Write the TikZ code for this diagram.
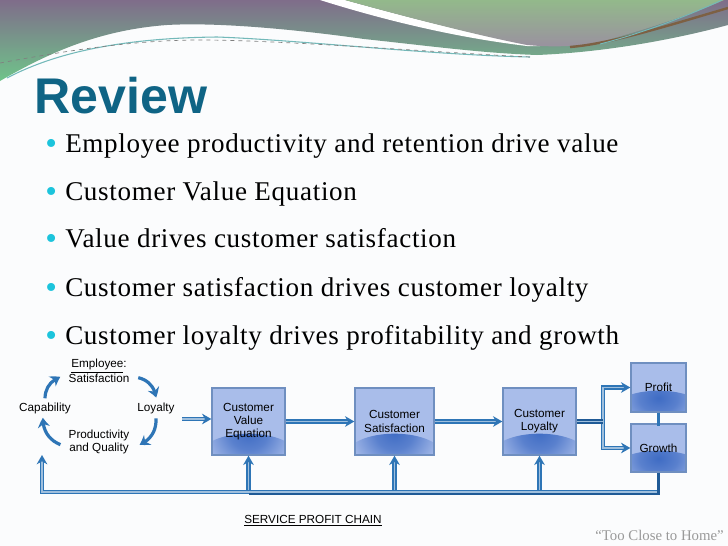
\documentclass[tikz,border=0pt]{standalone}
\usepackage{xcolor}
\usepackage{fontspec}
\setmainfont{Liberation Serif}
\setsansfont{Liberation Sans}
\newfontfamily\pointfont[LetterSpace=2.5]{Liberation Serif}
\usepackage{tikz}
\usetikzlibrary{positioning, arrows.meta, bending}
\definecolor{pagecol}{HTML}{FBFCFD}
\definecolor{boxcol}{HTML}{A9BDEA}
\definecolor{boxdark}{HTML}{3F6CC4}
\definecolor{boxline}{HTML}{6F8FC0}
\definecolor{arrowcol}{HTML}{2E75B6}
\definecolor{arrowdark}{HTML}{1F5A96}
\definecolor{titlecol}{HTML}{0F6485}
\definecolor{bulletcol}{HTML}{1CC4DC}
\definecolor{bandtop}{HTML}{7F6D8A}
\definecolor{bandlow}{HTML}{6FC48A}
\definecolor{swoopgreen}{HTML}{93B98B}
\definecolor{swooppurple}{HTML}{9A90A0}
\pgfdeclareradialshading{boxglow}{\pgfpoint{0bp}{0bp}}{color(0bp)=(boxdark); color(10bp)=(boxdark!75!boxcol); color(25bp)=(boxcol); color(100bp)=(boxcol)}
\tikzstyle{process} = [rectangle, minimum width=73*0.75pt, minimum height=67*0.75pt, inner sep=0pt, align=center, text=black, font=\sffamily\fontsize{8.8pt}{9.9pt}\selectfont, draw=boxline, line width=1pt, fill=boxcol,
	path picture={\shade[shading=boxglow] (path picture bounding box.south) ellipse (36pt and 16pt);}]
\tikzstyle{label} = [align=center, text=black, inner sep=0pt, font=\sffamily\fontsize{8.8pt}{9.4pt}\selectfont]
\tikzstyle{point} = [anchor=base west, inner sep=0pt, text=black, font=\pointfont\fontsize{20.3pt}{22pt}\selectfont]
\tikzstyle{flow} = [double=arrowcol!45!pagecol, double distance=0.9pt, draw=arrowcol, line width=1.25pt]
\tikzstyle{flowtip} = [flow, -{Stealth[length=7pt, width=8pt, color=arrowcol]}]
\tikzstyle{turn} = [draw=arrowcol, line width=2.4pt, -{Stealth[length=7pt, width=9pt, bend]}]
\newcommand{\pointmark}{\makebox[15pt][l]{\raisebox{-1.6pt}{\textcolor{bulletcol}{\fontsize{25pt}{25pt}\selectfont\textbullet}}}}
\begin{document}
\begin{tikzpicture}[x=0.75pt, y=-0.75pt]
	\useasboundingbox (0,0) rectangle (728,546);
	\fill[pagecol] (0,0) rectangle (728,546);
	% top bands
	\shade[top color=bandtop, bottom color=bandlow] (0,0) -- (728,0) -- (728,25) .. controls (680,38) and (610,52) .. (537,55) .. controls (480,53) and (430,46) .. (364,39) .. controls (300,30) and (220,22) .. (167,25) .. controls (100,30) and (50,52) .. (0,81) -- cycle;
	\fill[white] (320,0) .. controls (390,22) and (460,38) .. (527,46) -- (540,46) .. controls (480,36) and (410,18) .. (345,0) -- cycle;
	\shade[top color=swoopgreen, bottom color=swooppurple] (345,0) .. controls (410,18) and (480,36) .. (527,45) .. controls (560,48) and (590,46) .. (614,38) .. controls (650,28) and (690,15) .. (724,0) -- cycle;
	\draw[color=black!35!brown!70!gray, line width=1.8pt] (570,47) .. controls (610,44) and (670,25) .. (728,8);
	\draw[color=teal!55!white, line width=0.7pt] (600,44) .. controls (640,34) and (690,15) .. (722,0);
	\draw[color=teal!55!white, line width=0.8pt] (7,78) .. controls (60,50) and (130,38) .. (217,37) .. controls (300,40) and (430,55) .. (530,57);
	\draw[color=black!50, line width=0.5pt, dashed] (0,63) .. controls (60,52) and (130,40) .. (200,40) .. controls (280,40) and (430,52) .. (530,57);
	% title and points
	\node (Title)[anchor=base west, inner sep=0pt, text=titlecol, font=\sffamily\bfseries\fontsize{37.6pt}{40pt}\selectfont] at (34,113) {Review};
	\node (PointA)[point] at (45,152) {\pointmark Employee productivity and retention drive value};
	\node (PointB)[point] at (45,200) {\pointmark Customer Value Equation};
	\node (PointC)[point] at (45,247) {\pointmark Value drives customer satisfaction};
	\node (PointD)[point] at (45,296) {\pointmark Customer satisfaction drives customer loyalty};
	\node (PointE)[point] at (45,344) {\pointmark Customer loyalty drives profitability and growth};
	% cycle
	\node (Employee)[label] at (99,371) {\underline{Employee}:\\Satisfaction};
	\node (Loyalty)[label] at (156,408) {Loyalty};
	\node (Productivity)[label] at (99,442) {Productivity\\and Quality};
	\node (Capability)[label] at (45,408) {Capability};
	\draw[turn] ([yshift=3pt]Capability.north) to[bend left=35] ([xshift=-6pt,yshift=-4.5pt]Employee.west);
	\draw[turn] ([xshift=6.5pt,yshift=-5pt]Employee.east) to[bend left=35] ([yshift=3.5pt]Loyalty.north);
	\draw[turn] ([yshift=-3.5pt]Loyalty.south) to[bend left=35] ([xshift=7.5pt,yshift=-2pt]Productivity.east);
	\draw[turn] ([xshift=-6pt,yshift=-2pt]Productivity.west) to[bend left=35] ([xshift=-1.5pt,yshift=-3pt]Capability.south);
	% chain
	\node (Value)[process] at (248.5,421.5) {Customer\\Value\\Equation};
	\node (Satisfaction)[process, minimum width=79*0.75pt] at (394.5,421.5) {Customer\\Satisfaction};
	\node (Chain)[process] at (539.5,421.5) {Customer\\Loyalty};
	\node (Profit)[process, minimum width=55*0.75pt, minimum height=49*0.75pt] at (658.5,387.5) {Profit};
	\node (Growth)[process, minimum width=55*0.75pt, minimum height=48*0.75pt] at (658.5,448) {Growth};
	\coordinate (CycleOut) at (182,419);
	\coordinate (Split) at (603,421.5);
	\coordinate (Back) at (658.5,492);
	\coordinate (BackEnd) at (42,455);
	\draw[flowtip] (CycleOut) -- (Value.west |- CycleOut);
	\draw[flowtip] (Value) -- (Satisfaction);
	\draw[flowtip] (Satisfaction) -- (Chain);
	\draw[flowtip] (Split) |- (Profit.west);
	\draw[flowtip] (Split) |- (Growth.west);
	\draw[flow, draw=arrowdark] (Chain) -- (Split);
	\draw[arrowcol, line width=2.2pt] (Profit.south) -- ([yshift=-2pt]Growth.north);
	\draw[flowtip] (Value.south |- Back) -- (Value.south);
	\draw[flowtip] (Satisfaction.south |- Back) -- (Satisfaction.south);
	\draw[flowtip] (Chain.south |- Back) -- (Chain.south);
	\draw[flowtip] (Back) -- (BackEnd |- Back) -- (BackEnd);
	\draw[arrowdark, line width=1.6pt] (Growth.south) -- ([yshift=-1.4pt]Back) -- ([yshift=-1.4pt]Value.south |- Back);
	\node (Caption)[label] at (313,521) {\underline{SERVICE PROFIT CHAIN}};
	\node (Quote)[anchor=east, inner sep=0pt, text=black!40, font=\rmfamily\fontsize{11.1pt}{12pt}\selectfont] at (724,535) {“Too Close to Home”};
\end{tikzpicture}
\end{document}
